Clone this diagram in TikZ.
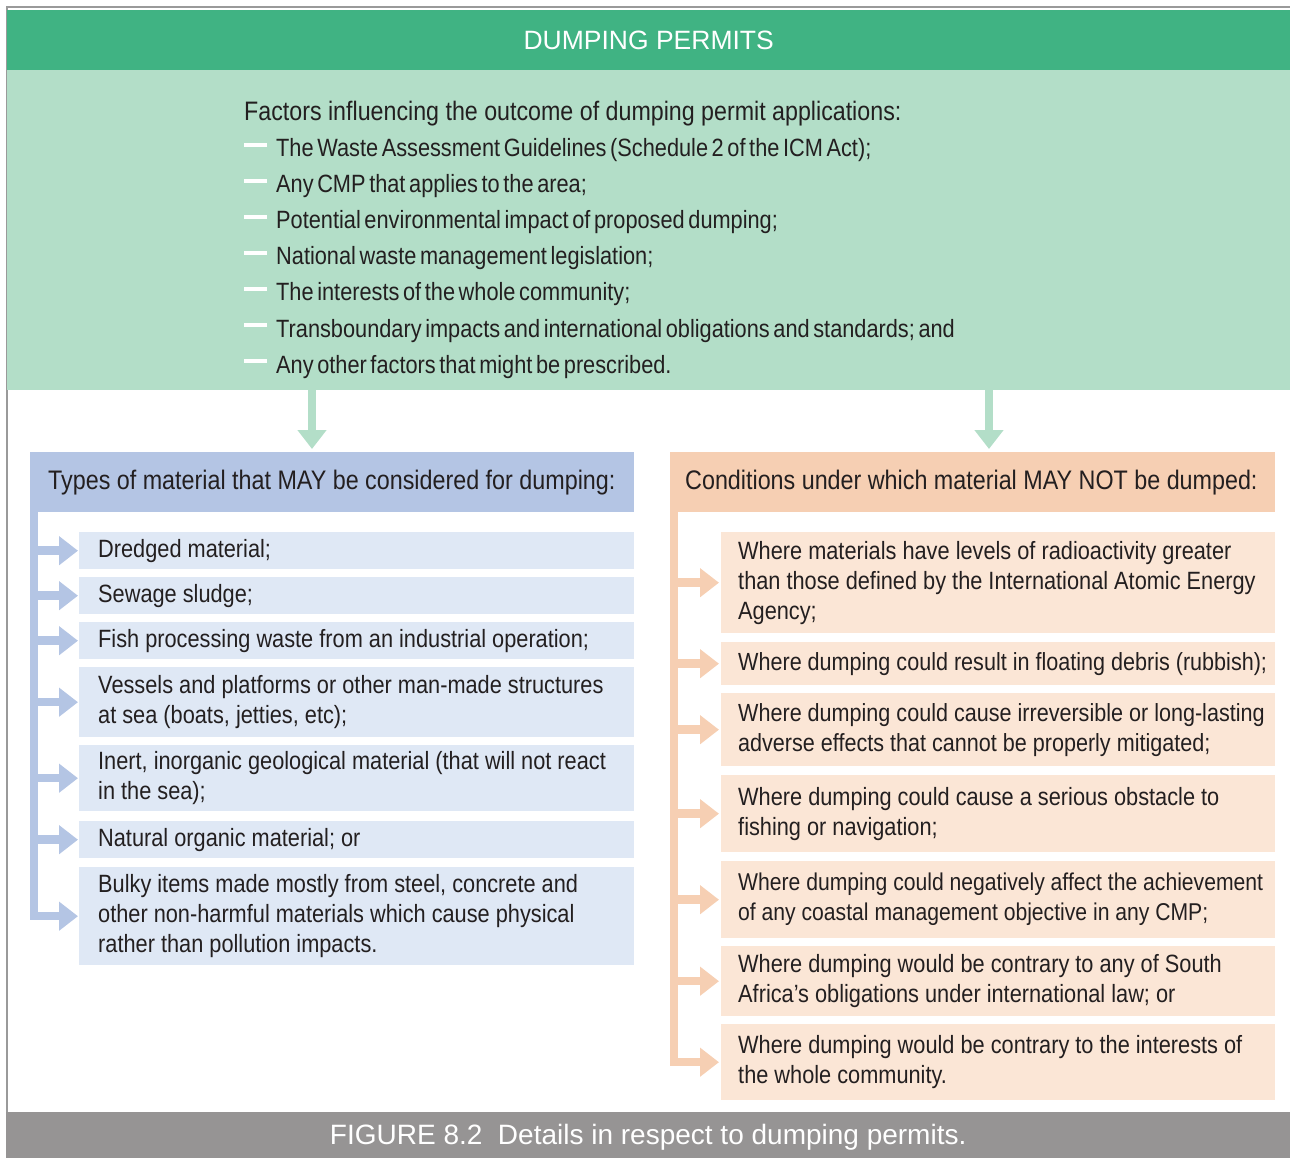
\documentclass[tikz,border=0pt]{standalone}
\usepackage{fontspec}
\setmainfont[FakeStretch=0.87]{Liberation Sans}
\newfontfamily\topfont[FakeStretch=0.87,WordSpace=0.6]{Liberation Sans}
\newfontfamily\plainfont{Liberation Sans}
\usetikzlibrary{arrows.meta}
\definecolor{dkgreen}{HTML}{40B383}
\definecolor{ltgreen}{HTML}{B3DEC8}
\definecolor{bluehd}{HTML}{B4C5E4}
\definecolor{blueit}{HTML}{DFE8F5}
\definecolor{orghd}{HTML}{F6CFB3}
\definecolor{orgit}{HTML}{FBE6D6}
\definecolor{capgray}{HTML}{969494}
\definecolor{framegray}{HTML}{9A9A9A}
\definecolor{txt}{HTML}{231F20}
\tikzset{
  box/.style={anchor=north west, inner sep=0pt},
  litem/.style={box, fill=blueit, minimum width=555pt},
  ritem/.style={box, fill=orgit, minimum width=554pt},
  lhead/.style={box, fill=bluehd, minimum width=604pt, minimum height=60pt},
  rhead/.style={box, fill=orghd, minimum width=605pt, minimum height=60pt},
  itemtext/.style={anchor=west, inner sep=0pt, align=left, text=txt,
    font=\fontsize{25}{30}\selectfont},
  headtext/.style={anchor=west, inner sep=0pt, text=txt, font=\fontsize{26.8}{30}\selectfont},
  topline/.style={anchor=base west, inner sep=0pt, text=txt, font=\topfont\fontsize{25}{30}\selectfont},
  dashmark/.style={white, line width=3.3pt},
  larrow/.style={draw=bluehd, line width=8.5pt, line join=miter, -{Triangle[length=19pt,width=28pt]}},
  rarrow/.style={draw=orghd, line width=8.5pt, line join=miter, -{Triangle[length=19pt,width=28pt]}},
  garrow/.style={draw=ltgreen, line width=8.5pt, -{Triangle[length=19pt,width=28pt]}},
}
\begin{document}
\begin{tikzpicture}[x=1pt,y=-1pt]
\useasboundingbox (0,0) rectangle (1290,1158);
% frame
\draw[framegray, line width=2pt] (1290,7.5) -- (6.5,7.5) -- (6.5,1112);
% title
\node[anchor=north west, fill=dkgreen, minimum width=1283pt, minimum height=60pt, inner sep=0pt,
  text=white, font=\plainfont\fontsize{26.5}{32}\selectfont] (title) at (7,10) {DUMPING PERMITS};
% factors box
\node[anchor=north west, fill=ltgreen, minimum width=1283pt, minimum height=320pt, inner sep=0pt] (factors) at (7,70) {};
\node[topline, font=\fontsize{26.7}{30}\selectfont] (f0) at (244,121) {Factors influencing the outcome of dumping permit applications:};
\node[topline] (f1) at (276,157) {The Waste Assessment Guidelines (Schedule 2 of the ICM Act);};
\node[topline] (f2) at (276,193) {Any CMP that applies to the area;};
\node[topline] (f3) at (276,229) {Potential environmental impact of proposed dumping;};
\node[topline] (f4) at (276,265) {National waste management legislation;};
\node[topline] (f5) at (276,301) {The interests of the whole community;};
\node[topline] (f6) at (276,337) {Transboundary impacts and international obligations and standards; and};
\node[topline] (f7) at (276,373) {Any other factors that might be prescribed.};
\foreach \b in {157,193,229,265,301,337,373}{
  \draw[dashmark] (244,\b-12) -- (267,\b-12);
}
% headers
\node[lhead] (lh) at (30,452) {};
\node[headtext] at ([xshift=18pt]lh.west) {Types of material that MAY be considered for dumping:};
\node[rhead] (rh) at (670,452) {};
\node[headtext] at ([xshift=15pt]rh.west) {Conditions under which material MAY NOT be dumped:};
% green arrows
\draw[garrow] (factors.south -| 312,0) -- (312,449);
\draw[garrow] (factors.south -| 989,0) -- (989,449);
% left items
\node[litem, minimum height=37pt] (l1) at (79,532) {};
\node[litem, minimum height=37pt] (l2) at (79,577) {};
\node[litem, minimum height=37pt] (l3) at (79,622) {};
\node[litem, minimum height=70pt] (l4) at (79,667) {};
\node[litem, minimum height=66pt] (l5) at (79,745) {};
\node[litem, minimum height=37pt] (l6) at (79,821) {};
\node[litem, minimum height=98pt] (l7) at (79,867) {};
\node[itemtext] at ([xshift=19pt]l1.west) {Dredged material;};
\node[itemtext] at ([xshift=19pt]l2.west) {Sewage sludge;};
\node[itemtext] at ([xshift=19pt]l3.west) {Fish processing waste from an industrial operation;};
\node[itemtext] at ([xshift=19pt]l4.west) {Vessels and platforms or other man-made structures\\at sea (boats, jetties, etc);};
\node[itemtext] at ([xshift=19pt]l5.west) {Inert, inorganic geological material (that will not react\\in the sea);};
\node[itemtext] at ([xshift=19pt]l6.west) {Natural organic material; or};
\node[itemtext] at ([xshift=19pt]l7.west) {Bulky items made mostly from steel, concrete and\\other non-harmful materials which cause physical\\rather than pollution impacts.};
% right items
\node[ritem, minimum height=101pt] (r1) at (721,532) {};
\node[ritem, minimum height=43pt] (r2) at (721,642) {};
\node[ritem, minimum height=73pt] (r3) at (721,693) {};
\node[ritem, minimum height=77pt] (r4) at (721,775) {};
\node[ritem, minimum height=77pt] (r5) at (721,861) {};
\node[ritem, minimum height=70pt] (r6) at (721,946) {};
\node[ritem, minimum height=76pt] (r7) at (721,1024) {};
\node[itemtext] at ([xshift=17pt]r1.west) {Where materials have levels of radioactivity greater\\than those defined by the International Atomic Energy\\Agency;};
\node[itemtext, font=\fontsize{24.8}{30}\selectfont] at ([xshift=17pt]r2.west) {Where dumping could result in floating debris (rubbish);};
\node[itemtext, font=\fontsize{24.8}{30}\selectfont] at ([xshift=17pt]r3.west) {Where dumping could cause irreversible or long-lasting\\adverse effects that cannot be properly mitigated;};
\node[itemtext] at ([xshift=17pt]r4.west) {Where dumping could cause a serious obstacle to\\fishing or navigation;};
\node[itemtext, font=\fontsize{24.3}{30}\selectfont] at ([xshift=17pt]r5.west) {Where dumping could negatively affect the achievement\\of any coastal management objective in any CMP;};
\node[itemtext] at ([xshift=17pt]r6.west) {Where dumping would be contrary to any of South\\Africa’s obligations under international law; or};
\node[itemtext] at ([xshift=17pt]r7.west) {Where dumping would be contrary to the interests of\\the whole community.};
% left connectors
\coordinate (lbar) at (34,512);
\draw[larrow] (lbar) |- ([xshift=-1pt]l7.west);
\foreach \n in {l1,l2,l3,l4,l5,l6}{
  \draw[larrow] (\n.west -| lbar) -- ([xshift=-1pt]\n.west);
}
% right connectors
\coordinate (rbar) at (674,512);
\draw[rarrow] (rbar) |- ([xshift=-2pt]r7.west);
\foreach \n in {r1,r2,r3,r4,r5,r6}{
  \draw[rarrow] (\n.west -| rbar) -- ([xshift=-2pt]\n.west);
}
% caption
\node[anchor=north west, fill=capgray, minimum width=1284pt, minimum height=46pt, inner sep=0pt] (cap) at (6,1112) {};
\node[anchor=center, inner sep=0pt, text=white, font=\plainfont\fontsize{28}{32}\selectfont]
  at ([yshift=-2pt]cap.center) {FIGURE 8.2\ \ Details in respect to dumping permits.};
\end{tikzpicture}
\end{document}
